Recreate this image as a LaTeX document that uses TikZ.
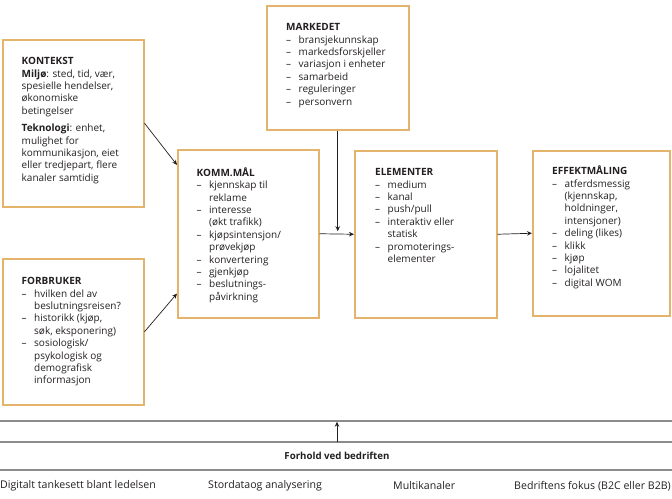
\documentclass[tikz,border=0pt]{standalone}
\usepackage{fontspec}
\setmainfont{Open Sans}
\usetikzlibrary{arrows.meta}
\definecolor{boxline}{RGB}{228,180,108}
\definecolor{ruleline}{RGB}{140,140,140}
\definecolor{ink}{RGB}{35,31,32}
\newcommand{\dsh}{\makebox[12.5pt][l]{–}}
\newcommand{\ind}{\hspace*{12.5pt}}
\newcommand{\hd}[1]{\rule{0pt}{10pt}\textbf{#1}}

\begin{document}
\begin{tikzpicture}[x=1pt, y=-1pt,
  box/.style={draw=boxline, line width=1.5pt, anchor=north west, inner sep=0pt},
  txt/.style={anchor=north west, inner sep=0pt, align=left, text=ink,
    font=\fontsize{10}{12.4}\selectfont},
  foot/.style={anchor=west, inner sep=0pt, text=ink, font=\fontsize{10.6}{12}\selectfont},
  arr/.style={draw=ink, line width=0.7pt, -{Stealth[length=5pt, width=4.5pt]}},
  band/.style={draw=ruleline, line width=1.4pt}]
  \useasboundingbox (0,0) rectangle (672,498);
  % Boxes
  \node[box, minimum width=141, minimum height=167] (kontekst) at (2,39) {};
  \node[box, minimum width=141, minimum height=146] (forbruker) at (2,258) {};
  \node[box, minimum width=141, minimum height=168] (komm) at (177,149) {};
  \node[box, minimum width=142, minimum height=124] (marked) at (266,5) {};
  \node[box, minimum width=142, minimum height=167] (elem) at (354,150) {};
  \node[box, minimum width=137, minimum height=165] (effekt) at (532,150) {};
  % Box texts
  \node[txt] (kontekst-t) at ([shift={(19.5,15.5)}]kontekst.north west) {\hd{KONTEKST}\\
    \textbf{Miljø}: sted, tid, vær,\\
    spesielle hendelser,\\
    økonomiske\\
    betingelser\\[5pt]
    \textbf{Teknologi}: enhet,\\
    mulighet for\\
    kommunikasjon, eiet\\
    eller tredjepart, flere\\
    kanaler samtidig};
  \node[txt] (forbruker-t) at ([shift={(19.5,16.5)}]forbruker.north west) {\hd{FORBRUKER}\\
    \dsh hvilken del av\\
    \ind beslutningsreisen?\\
    \dsh historikk (kjøp,\\
    \ind søk, eksponering)\\
    \dsh sosiologisk/\\
    \ind psykologisk og\\
    \ind demografisk\\
    \ind informasjon};
  \node[txt] (komm-t) at ([shift={(19.5,17)}]komm.north west) {\hd{KOMM.MÅL}\\
    \dsh kjennskap til\\
    \ind reklame\\
    \dsh interesse\\
    \ind (økt trafikk)\\
    \dsh kjøpsintensjon/\\
    \ind prøvekjøp\\
    \dsh konvertering\\
    \dsh gjenkjøp\\
    \dsh beslutnings-\\
    \ind påvirkning};
  \node[txt] (marked-t) at ([shift={(20,15.5)}]marked.north west) {\hd{MARKEDET}\\
    \dsh bransjekunnskap\\
    \dsh markedsforskjeller\\
    \dsh variasjon i enheter\\
    \dsh samarbeid\\
    \dsh reguleringer\\
    \dsh personvern};
  \node[txt] (elem-t) at ([shift={(21,15.5)}]elem.north west) {\hd{ELEMENTER}\\
    \dsh medium\\
    \dsh kanal\\
    \dsh push/pull\\
    \dsh interaktiv eller\\
    \ind statisk\\
    \dsh promoterings-\\
    \ind elementer};
  \node[txt] (effekt-t) at ([shift={(20,14.5)}]effekt.north west) {\hd{EFFEKTMÅLING}\\
    \dsh atferdsmessig\\
    \ind (kjennskap,\\
    \ind holdninger,\\
    \ind intensjoner)\\
    \dsh deling (likes)\\
    \dsh klikk\\
    \dsh kjøp\\
    \dsh lojalitet\\
    \dsh digital WOM};
  % Connectors
  \coordinate (mjoin) at (marked.south |- komm.east);
  \draw[arr] (kontekst.east) -- (komm.136);
  \draw[arr] (forbruker.east) -- (komm.220);
  \draw[arr] (komm.east) -- (elem.west);
  \draw[arr, shorten >=2.5pt] (marked.south) -- (mjoin);
  \draw[arr] (elem.east) -- (effekt.west);
  % Company conditions band
  \draw[band] (0,421) -- (672,421);
  \draw[band] (0,442) -- (672,442);
  \draw[band] (0,470) -- (672,470);
  \coordinate (bandlow) at (337,442);
  \coordinate (bandtop) at (337,421.7);
  \draw[arr] (bandlow) -- (bandtop);
  \node[inner sep=0pt, text=ink, font=\fontsize{9.7}{11}\selectfont\bfseries] (forhold) at (337,456) {Forhold ved bedriften};
  \node[foot] (f-lead) at (0,486) {Digitalt tankesett blant ledelsen};
  \node[foot] (f-data) at (208,486) {Stordataog analysering};
  \node[foot] (f-multi) at (393,486) {Multikanaler};
  \node[foot, anchor=east] (f-focus) at (671,486) {Bedriftens fokus (B2C eller B2B)};
\end{tikzpicture}
\end{document}
